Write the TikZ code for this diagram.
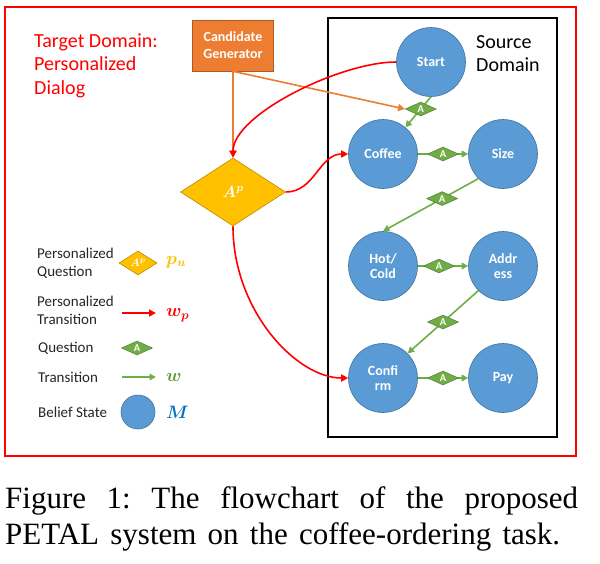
\RequirePackage{fix-cm}
\documentclass[tikz,border=0pt]{standalone}
\usepackage{bm}
\usepackage{fontspec}
\setmainfont{Carlito}
\newfontfamily\capfont{Liberation Serif}
\usetikzlibrary{shapes.geometric,arrows.meta}
\definecolor{cblue}{HTML}{5B9BD5}
\definecolor{cbluedark}{HTML}{41719C}
\definecolor{cgreen}{HTML}{70AD47}
\definecolor{cgreendark}{HTML}{507E32}
\definecolor{cgreentext}{HTML}{5E9B38}
\definecolor{corange}{HTML}{ED7D31}
\definecolor{corangedark}{HTML}{AE5A21}
\definecolor{cgold}{HTML}{FFC000}
\definecolor{cgolddark}{HTML}{BC8C00}
\definecolor{cmblue}{HTML}{0070C0}
\definecolor{cred}{HTML}{FF0000}
\newcommand{\apsym}{$\bm{A}^{\bm{p}}$}
\begin{document}
\begin{tikzpicture}[x=1pt,y=-1pt,
  state/.style={circle,fill=cblue,draw=cbluedark,line width=0.6pt,minimum size=69pt,inner sep=0pt,text=white,font=\fontsize{14}{15.5}\selectfont\bfseries,align=center},
  qdia/.style={diamond,fill=cgreen,draw=cgreendark,line width=0.5pt,minimum width=31pt,minimum height=14pt,inner sep=0pt,text=white,font=\fontsize{10.5}{10.5}\selectfont\bfseries},
  apdia/.style={diamond,fill=cgold,draw=cgolddark,line width=0.6pt,minimum width=105pt,minimum height=68pt,inner sep=0pt,text=white,font=\fontsize{16}{16}\selectfont},
  genbox/.style={rectangle,fill=corange,draw=corangedark,line width=0.6pt,minimum width=81pt,minimum height=51pt,inner sep=0pt,text=white,align=center,font=\fontsize{14}{17}\selectfont\bfseries},
  garrow/.style={draw=cgreen,line width=1.6pt,-{Triangle[length=6.5pt,width=6.5pt]}},
  rarrow/.style={draw=cred,line width=1.6pt,-{Triangle[length=7pt,width=7pt]}},
  oarrow/.style={draw=corange,line width=1.6pt,-{Triangle[length=7pt,width=7pt]}},
  legtext/.style={anchor=west,align=left,inner sep=0pt,font=\fontsize{15}{18}\selectfont,text=black!85},
  mathlab/.style={anchor=west,inner sep=0pt,font=\fontsize{18}{18}\selectfont},
  captext/.style={anchor=base west,inner sep=0pt,font=\capfont\fontsize{31}{36}\selectfont}
]
\useasboundingbox (0,0) rectangle (600,563);
\fill[white] (0,0) rectangle (600,563);

% frames
\draw[cred,line width=1.8pt] (5,7) rectangle (576,456);
\draw[black,line width=1.5pt] (328,18) rectangle (557,437);

% titles
\node[anchor=west,align=left,inner sep=0pt,text=cred,font=\fontsize{20}{23.5}\selectfont] (title) at (34,65.5) {Target Domain:\\Personalized\\Dialog};
\node[anchor=west,align=left,inner sep=0pt,text=black,font=\fontsize{20}{23}\selectfont] (src) at (476,53.5) {Source\\Domain};

% states
\node[state] (start) at (431,62) {Start};
\node[state] (coffee) at (383,154) {Coffee};
\node[state] (size) at (503,154) {Size};
\node[state] (hot) at (383,266) {Hot/\\Cold};
\node[state] (addr) at (503,266) {Addr\\ess};
\node[state] (conf) at (383,378) {Confi\\rm};
\node[state] (pay) at (503,378) {Pay};

% generator and personalized question
\node[genbox] (gen) at (233,45.5) {Candidate\\Generator};
\node[apdia] (ap) at (233,192) {\apsym};

% green transitions with questions
\draw[garrow] (start.south) -- node[qdia,pos=0.4] (q1) {A} (coffee);
\draw[garrow] (coffee) -- node[qdia] (q2) {A} (size);
\draw[garrow] (size.225) -- node[qdia,pos=0.38] (q3) {A} (hot.north);
\draw[garrow] (hot) -- node[qdia,pos=0.42] (q4) {A} (addr);
\draw[garrow] (addr.225) -- node[qdia] (q5) {A} (conf.45);
\draw[garrow] (conf) -- node[qdia] (q6) {A} (pay);

% orange arrows
\draw[oarrow] (gen) -- (ap);
\draw[oarrow] (gen.south) -- (q1.west);

% red personalized transitions
\draw[rarrow] (start.west) .. controls +(-56,0) and +(0,-43) .. (ap.north);
\draw[rarrow] (ap.east) .. controls +(29,0) and +(-29,0) .. (coffee.west);
\draw[rarrow] (ap.south) .. controls +(0,84) and +(-52,0) .. (conf.west);

% legend
\node[legtext] (lt1) at (37,263) {Personalized\\Question};
\node[apdia,minimum width=38pt,minimum height=24pt,font=\fontsize{11}{11}\selectfont] (lq) at (138,263) {\apsym};
\node[mathlab,text=cgold] (lm1) at (166,262) {$\bm{p_u}$};

\node[legtext] (lt2) at (37,310) {Personalized\\Transition};
\coordinate (lr1) at (122,313);
\coordinate (lr2) at (156,313);
\draw[rarrow] (lr1) -- (lr2);
\node[mathlab,text=cred] (lm2) at (166,315) {$\bm{w_p}$};

\node[legtext] (lt3) at (38,348) {Question};
\node[qdia] (lqd) at (137,348) {A};

\node[legtext] (lt4) at (38,377) {Transition};
\coordinate (lg1) at (122,377);
\coordinate (lg2) at (156,377);
\draw[garrow] (lg1) -- (lg2);
\node[mathlab,text=cgreentext] (lm4) at (166,377) {$\bm{w}$};

\node[legtext] (lt5) at (38,412) {Belief State};
\node[state,minimum size=34pt] (lbs) at (138,412) {};
\node[mathlab,text=cmblue] (lm5) at (166,412) {$\bm{M}$};

% caption
\node[captext] (cap1) at (5,508) {\makebox[573pt][s]{Figure 1:\ The flowchart of the proposed}};
\node[captext] (cap2) at (5,544) {\makebox[555pt][s]{PETAL system on the coffee-ordering task.}};
\end{tikzpicture}
\end{document}
